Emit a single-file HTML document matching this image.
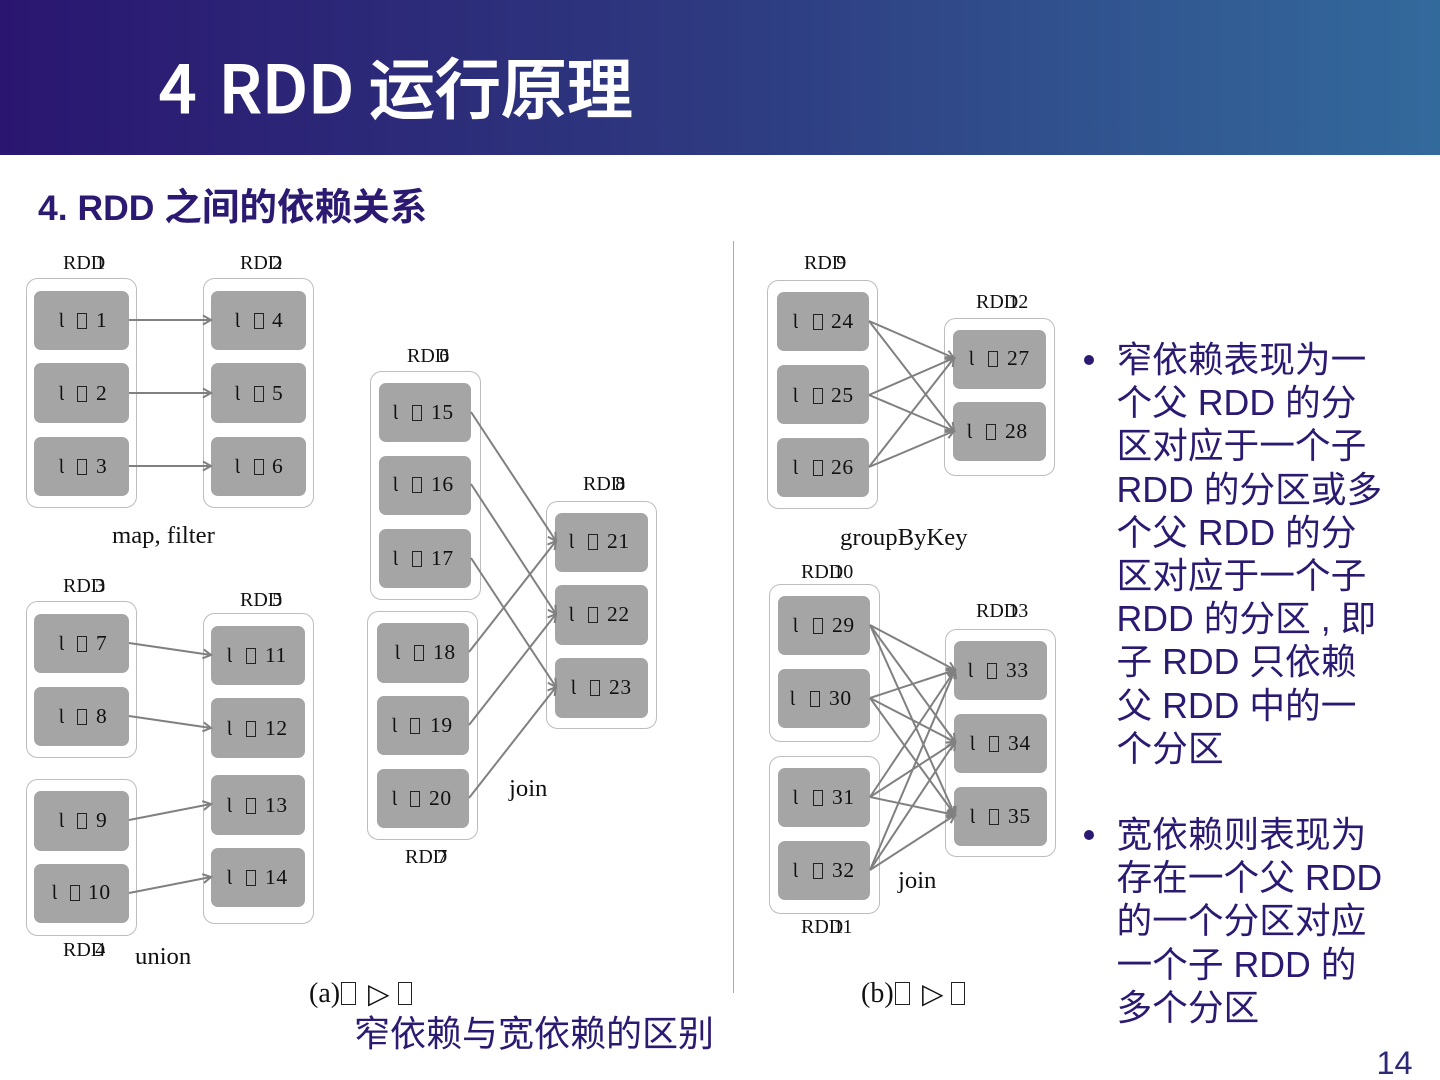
<!DOCTYPE html>
<html lang="zh">
<head>
<meta charset="utf-8">
<title>4 RDD 运行原理</title>
<style>
html,body{margin:0;padding:0;background:#fff}
#p{position:relative;width:1440px;height:1080px;overflow:hidden;background:#fff}
#h{position:absolute;left:0;top:0;width:1440px;height:155px;background:linear-gradient(90deg,#2a1670 0%,#2e3a80 50%,#336a9c 100%)}
.a{position:absolute;white-space:pre;line-height:1}
#t{left:159px;top:48px;font:500 66px/1.15 "Noto Sans CJK SC",sans-serif;color:#fff;-webkit-text-stroke:1px #fff}
#t span{padding-left:7px}
#s{left:38px;top:186px;font:bold 35.5px/1.15 "Liberation Sans","Noto Sans CJK SC",sans-serif;color:#2c1a72}
#s span{font-size:37.6px}
.b{position:absolute;left:1116.5px;font:35.7px/43.2px "Liberation Sans","WenQuanYi Zen Hei",sans-serif;color:#2c1a72;white-space:pre}
.d{position:absolute;left:1084px;width:10px;height:10px;border-radius:50%;background:#2c1a72}
#c{left:354px;top:1012px;font:36px/43px "WenQuanYi Zen Hei",sans-serif;color:#2c1a72}
#n{left:1376.5px;top:1045px;font:32.4px/36px "Liberation Sans",sans-serif;color:#2c2a78}
svg{position:absolute;left:0;top:0}
svg text{font-family:"Liberation Serif","DejaVu Serif",serif;fill:#111}
.g{fill:#fff;stroke:#bdbdbd;stroke-width:1}
.r{fill:#a5a5a5}
.k{fill:none;stroke:#222;stroke-width:1}
.l{stroke:#808080;stroke-width:2;fill:none;marker-end:url(#m)}
.x{font-size:21.5px;letter-spacing:.6px}
.x tspan:first-child{font-size:20px}
.y{font-size:24.7px}
.z{font-size:20px}
</style>
</head>
<body>
<div id="p">
<div id="h"></div>
<div id="t" class="a">4 <span>RDD</span> 运行原理</div>
<div id="s" class="a">4. RDD <span>之间的依赖关系</span></div>
<svg width="1440" height="1080" viewBox="0 0 1440 1080">
<defs><marker id="m" markerUnits="userSpaceOnUse" markerWidth="14" markerHeight="14" refX="11" refY="7" orient="auto"><path d="M3 2.5 L11 7 L3 11.5" fill="none" stroke="#808080" stroke-width="2"/></marker></defs>
<line x1="733.5" y1="241" x2="733.5" y2="993" stroke="#aaa" stroke-width="1"/>

<rect class="g" x="26.5" y="278.5" width="110" height="229" rx="11"/>
<rect class="g" x="203.5" y="278.5" width="110" height="229" rx="11"/>
<rect class="g" x="26.5" y="601.5" width="110" height="156" rx="11"/>
<rect class="g" x="26.5" y="779.5" width="110" height="156" rx="11"/>
<rect class="g" x="203.5" y="613.5" width="110" height="310" rx="11"/>
<rect class="g" x="370.5" y="371.5" width="110" height="228" rx="11"/>
<rect class="g" x="367.5" y="611.5" width="110" height="228" rx="11"/>
<rect class="g" x="546.5" y="501.5" width="110" height="227" rx="11"/>
<rect class="g" x="767.5" y="280.5" width="110" height="228" rx="11"/>
<rect class="g" x="944.5" y="318.5" width="110" height="157" rx="11"/>
<rect class="g" x="769.5" y="584.5" width="110" height="157" rx="11"/>
<rect class="g" x="769.5" y="756.5" width="110" height="157" rx="11"/>
<rect class="g" x="945.5" y="629.5" width="110" height="227" rx="11"/>

<rect class="r" x="34" y="291" width="95" height="59" rx="7"/>
<rect class="r" x="34" y="363" width="95" height="60" rx="7"/>
<rect class="r" x="34" y="437" width="95" height="59" rx="7"/>
<rect class="r" x="211" y="291" width="95" height="59" rx="7"/>
<rect class="r" x="211" y="363" width="95" height="60" rx="7"/>
<rect class="r" x="211" y="437" width="95" height="59" rx="7"/>
<rect class="r" x="34" y="614" width="95" height="59" rx="7"/>
<rect class="r" x="34" y="687" width="95" height="59" rx="7"/>
<rect class="r" x="34" y="791" width="95" height="60" rx="7"/>
<rect class="r" x="34" y="864" width="95" height="59" rx="7"/>
<rect class="r" x="211" y="626" width="94" height="59" rx="7"/>
<rect class="r" x="211" y="698" width="94" height="60" rx="7"/>
<rect class="r" x="211" y="775" width="94" height="60" rx="7"/>
<rect class="r" x="211" y="848" width="94" height="59" rx="7"/>
<rect class="r" x="379" y="383" width="92" height="59" rx="7"/>
<rect class="r" x="379" y="456" width="92" height="59" rx="7"/>
<rect class="r" x="379" y="529" width="92" height="59" rx="7"/>
<rect class="r" x="377" y="623" width="92" height="60" rx="7"/>
<rect class="r" x="377" y="696" width="92" height="59" rx="7"/>
<rect class="r" x="377" y="769" width="92" height="59" rx="7"/>
<rect class="r" x="555" y="513" width="93" height="59" rx="7"/>
<rect class="r" x="555" y="585" width="93" height="60" rx="7"/>
<rect class="r" x="555" y="658" width="93" height="60" rx="7"/>
<rect class="r" x="777" y="292" width="92" height="59" rx="7"/>
<rect class="r" x="777" y="365" width="92" height="59" rx="7"/>
<rect class="r" x="777" y="438" width="92" height="59" rx="7"/>
<rect class="r" x="953" y="330" width="93" height="59" rx="7"/>
<rect class="r" x="953" y="402" width="93" height="59" rx="7"/>
<rect class="r" x="778" y="596" width="92" height="59" rx="7"/>
<rect class="r" x="778" y="669" width="92" height="59" rx="7"/>
<rect class="r" x="778" y="768" width="92" height="59" rx="7"/>
<rect class="r" x="778" y="841" width="92" height="59" rx="7"/>
<rect class="r" x="954" y="641" width="93" height="59" rx="7"/>
<rect class="r" x="954" y="714" width="93" height="59" rx="7"/>
<rect class="r" x="954" y="787" width="93" height="59" rx="7"/>

<line class="l" x1="129" y1="320" x2="211" y2="320"/>
<line class="l" x1="129" y1="393" x2="211" y2="393"/>
<line class="l" x1="129" y1="466" x2="211" y2="466"/>
<line class="l" x1="129" y1="643" x2="211" y2="655"/>
<line class="l" x1="129" y1="716" x2="211" y2="728"/>
<line class="l" x1="129" y1="820" x2="211" y2="804"/>
<line class="l" x1="129" y1="893" x2="211" y2="877"/>
<line class="l" x1="471" y1="412" x2="556" y2="541"/>
<line class="l" x1="471" y1="484" x2="556" y2="614"/>
<line class="l" x1="471" y1="558" x2="556" y2="687"/>
<line class="l" x1="469" y1="652" x2="556" y2="541"/>
<line class="l" x1="469" y1="725" x2="556" y2="614"/>
<line class="l" x1="469" y1="798" x2="556" y2="687"/>
<line class="l" x1="869" y1="321" x2="954" y2="358"/>
<line class="l" x1="869" y1="321" x2="954" y2="431"/>
<line class="l" x1="869" y1="395" x2="954" y2="358"/>
<line class="l" x1="869" y1="395" x2="954" y2="431"/>
<line class="l" x1="869" y1="467" x2="954" y2="358"/>
<line class="l" x1="869" y1="467" x2="954" y2="431"/>
<line class="l" x1="870" y1="625" x2="955" y2="670"/>
<line class="l" x1="870" y1="625" x2="955" y2="742"/>
<line class="l" x1="870" y1="625" x2="955" y2="815"/>
<line class="l" x1="870" y1="698" x2="955" y2="670"/>
<line class="l" x1="870" y1="698" x2="955" y2="742"/>
<line class="l" x1="870" y1="698" x2="955" y2="815"/>
<line class="l" x1="870" y1="797" x2="955" y2="670"/>
<line class="l" x1="870" y1="797" x2="955" y2="742"/>
<line class="l" x1="870" y1="797" x2="955" y2="815"/>
<line class="l" x1="870" y1="870" x2="955" y2="670"/>
<line class="l" x1="870" y1="870" x2="955" y2="742"/>
<line class="l" x1="870" y1="870" x2="955" y2="815"/>

<text class="x" y="327"><tspan x="59">Ɩ</tspan><tspan x="96">1</tspan></text><rect class="k" x="77.5" y="313.5" width="9" height="15"/>
<text class="x" y="400"><tspan x="59">Ɩ</tspan><tspan x="96">2</tspan></text><rect class="k" x="77.5" y="386.5" width="9" height="15"/>
<text class="x" y="473"><tspan x="59">Ɩ</tspan><tspan x="96">3</tspan></text><rect class="k" x="77.5" y="459.5" width="9" height="15"/>
<text class="x" y="327"><tspan x="235">Ɩ</tspan><tspan x="272">4</tspan></text><rect class="k" x="254.5" y="313.5" width="9" height="15"/>
<text class="x" y="400"><tspan x="235">Ɩ</tspan><tspan x="272">5</tspan></text><rect class="k" x="254.5" y="386.5" width="9" height="15"/>
<text class="x" y="473"><tspan x="235">Ɩ</tspan><tspan x="272">6</tspan></text><rect class="k" x="254.5" y="459.5" width="9" height="15"/>
<text class="x" y="650"><tspan x="59">Ɩ</tspan><tspan x="96">7</tspan></text><rect class="k" x="77.5" y="636.5" width="9" height="15"/>
<text class="x" y="723"><tspan x="59">Ɩ</tspan><tspan x="96">8</tspan></text><rect class="k" x="77.5" y="709.5" width="9" height="15"/>
<text class="x" y="827"><tspan x="59">Ɩ</tspan><tspan x="96">9</tspan></text><rect class="k" x="77.5" y="813.5" width="9" height="15"/>
<text class="x" y="899"><tspan x="52">Ɩ</tspan><tspan x="88">10</tspan></text><rect class="k" x="70.5" y="885.5" width="9" height="15"/>
<text class="x" y="662"><tspan x="227">Ɩ</tspan><tspan x="265">11</tspan></text><rect class="k" x="246.5" y="648.5" width="9" height="15"/>
<text class="x" y="735"><tspan x="227">Ɩ</tspan><tspan x="265">12</tspan></text><rect class="k" x="246.5" y="721.5" width="9" height="15"/>
<text class="x" y="812"><tspan x="227">Ɩ</tspan><tspan x="265">13</tspan></text><rect class="k" x="246.5" y="798.5" width="9" height="15"/>
<text class="x" y="884"><tspan x="227">Ɩ</tspan><tspan x="265">14</tspan></text><rect class="k" x="246.5" y="870.5" width="9" height="15"/>
<text class="x" y="419"><tspan x="393">Ɩ</tspan><tspan x="431">15</tspan></text><rect class="k" x="412.5" y="405.5" width="9" height="15"/>
<text class="x" y="491"><tspan x="393">Ɩ</tspan><tspan x="431">16</tspan></text><rect class="k" x="412.5" y="477.5" width="9" height="15"/>
<text class="x" y="565"><tspan x="393">Ɩ</tspan><tspan x="431">17</tspan></text><rect class="k" x="412.5" y="551.5" width="9" height="15"/>
<text class="x" y="659"><tspan x="395">Ɩ</tspan><tspan x="433">18</tspan></text><rect class="k" x="414.5" y="645.5" width="9" height="15"/>
<text class="x" y="732"><tspan x="392">Ɩ</tspan><tspan x="430">19</tspan></text><rect class="k" x="410.5" y="718.5" width="9" height="15"/>
<text class="x" y="805"><tspan x="392">Ɩ</tspan><tspan x="429">20</tspan></text><rect class="k" x="410.5" y="791.5" width="9" height="15"/>
<text class="x" y="548"><tspan x="569">Ɩ</tspan><tspan x="607">21</tspan></text><rect class="k" x="588.5" y="534.5" width="9" height="15"/>
<text class="x" y="621"><tspan x="569">Ɩ</tspan><tspan x="607">22</tspan></text><rect class="k" x="588.5" y="607.5" width="9" height="15"/>
<text class="x" y="694"><tspan x="571">Ɩ</tspan><tspan x="609">23</tspan></text><rect class="k" x="590.5" y="680.5" width="9" height="15"/>
<text class="x" y="328"><tspan x="793">Ɩ</tspan><tspan x="831">24</tspan></text><rect class="k" x="813.5" y="314.5" width="9" height="15"/>
<text class="x" y="402"><tspan x="793">Ɩ</tspan><tspan x="831">25</tspan></text><rect class="k" x="813.5" y="388.5" width="9" height="15"/>
<text class="x" y="474"><tspan x="793">Ɩ</tspan><tspan x="831">26</tspan></text><rect class="k" x="813.5" y="460.5" width="9" height="15"/>
<text class="x" y="365"><tspan x="969">Ɩ</tspan><tspan x="1007">27</tspan></text><rect class="k" x="988.5" y="351.5" width="9" height="15"/>
<text class="x" y="438"><tspan x="967">Ɩ</tspan><tspan x="1005">28</tspan></text><rect class="k" x="986.5" y="424.5" width="9" height="15"/>
<text class="x" y="632"><tspan x="793">Ɩ</tspan><tspan x="832">29</tspan></text><rect class="k" x="813.5" y="618.5" width="9" height="15"/>
<text class="x" y="705"><tspan x="790">Ɩ</tspan><tspan x="829">30</tspan></text><rect class="k" x="810.5" y="691.5" width="9" height="15"/>
<text class="x" y="804"><tspan x="793">Ɩ</tspan><tspan x="832">31</tspan></text><rect class="k" x="813.5" y="790.5" width="9" height="15"/>
<text class="x" y="877"><tspan x="793">Ɩ</tspan><tspan x="832">32</tspan></text><rect class="k" x="813.5" y="863.5" width="9" height="15"/>
<text class="x" y="677"><tspan x="968">Ɩ</tspan><tspan x="1006">33</tspan></text><rect class="k" x="987.5" y="663.5" width="9" height="15"/>
<text class="x" y="750"><tspan x="970">Ɩ</tspan><tspan x="1008">34</tspan></text><rect class="k" x="989.5" y="736.5" width="9" height="15"/>
<text class="x" y="823"><tspan x="970">Ɩ</tspan><tspan x="1008">35</tspan></text><rect class="k" x="989.5" y="809.5" width="9" height="15"/>

<text class="z" y="269" x="63">RDD<tspan dx="-10">1</tspan></text>
<text class="z" y="269" x="240">RDD<tspan dx="-10">2</tspan></text>
<text class="z" y="592" x="63">RDD<tspan dx="-10">3</tspan></text>
<text class="z" y="956" x="63">RDD<tspan dx="-10">4</tspan></text>
<text class="z" y="606" x="240">RDD<tspan dx="-10">5</tspan></text>
<text class="z" y="362" x="407">RDD<tspan dx="-10">6</tspan></text>
<text class="z" y="863" x="405">RDD<tspan dx="-10">7</tspan></text>
<text class="z" y="490" x="583">RDD<tspan dx="-10">8</tspan></text>
<text class="z" y="269" x="804">RDD<tspan dx="-10">9</tspan></text>
<text class="z" y="578" x="801">RDD<tspan dx="-10">10</tspan></text>
<text class="z" y="933" x="801">RDD<tspan dx="-10">11</tspan></text>
<text class="z" y="308" x="976">RDD<tspan dx="-10">12</tspan></text>
<text class="z" y="617" x="976">RDD<tspan dx="-10">13</tspan></text>

<text class="y" x="112" y="543">map, filter</text>
<text class="y" x="135" y="964">union</text>
<text class="y" x="509" y="796">join</text>
<text class="y" x="840" y="545">groupByKey</text>
<text class="y" x="898" y="888">join</text>

<text x="309" y="1002" style="font-size:28px">(a)</text>
<rect class="k" x="341.5" y="982.5" width="14" height="22"/>
<text x="368" y="1003" style="font-size:28px;font-family:'DejaVu Sans',sans-serif">▷</text>
<rect class="k" x="398.5" y="982.5" width="13" height="22"/>
<text x="861" y="1002" style="font-size:28px">(b)</text>
<rect class="k" x="895.5" y="982.5" width="14" height="22"/>
<text x="922" y="1003" style="font-size:28px;font-family:'DejaVu Sans',sans-serif">▷</text>
<rect class="k" x="951.5" y="982.5" width="13" height="22"/>
</svg>

<div class="d" style="top:355px"></div>
<div class="b" style="top:339px">窄依赖表现为一
个父 RDD 的分
区对应于一个子
RDD 的分区或多
个父 RDD 的分
区对应于一个子
RDD 的分区 , 即
子 RDD 只依赖
父 RDD 中的一
个分区</div>
<div class="d" style="top:830px"></div>
<div class="b" style="top:814px">宽依赖则表现为
存在一个父 RDD
的一个分区对应
一个子 RDD 的
多个分区</div>
<div id="c" class="a">窄依赖与宽依赖的区别</div>
<div id="n" class="a">14</div>
</div>
</body>
</html>
